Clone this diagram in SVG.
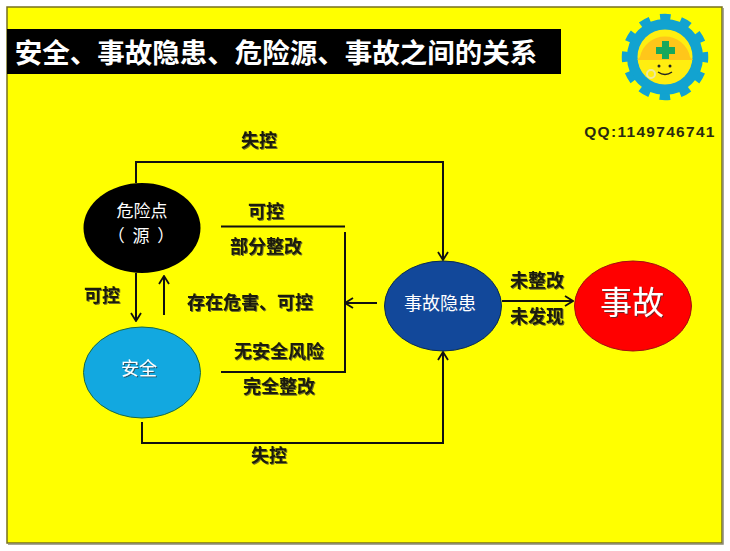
<svg xmlns="http://www.w3.org/2000/svg" width="730" height="551" viewBox="0 0 730 551">
<defs>
<marker id="arr" viewBox="0 0 12 12" refX="11" refY="6" markerWidth="12" markerHeight="12" markerUnits="userSpaceOnUse" orient="auto"><path d="M3 1 L11 6 L3 11" fill="none" stroke="#111" stroke-width="1.8"/></marker>
<filter id="sh" x="-10%" y="-10%" width="125%" height="130%"><feDropShadow dx="1" dy="1" stdDeviation="0.6" flood-color="#333" flood-opacity="0.7"/></filter>
</defs>
<style>
text{font-family:"Noto Sans CJK SC","Liberation Sans",sans-serif;text-anchor:middle}
.l{font-size:18px;font-weight:700;fill:#1a1a08;filter:url(#sh)}
.n{font-size:18px;fill:#fff}
.c{fill:none;stroke:#111;stroke-width:2}
.a{marker-end:url(#arr)}
</style>
<rect width="730" height="551" fill="#fff"/>
<rect x="7" y="7" width="715" height="536" fill="#ff0" stroke="#77701c" stroke-width="1.5"/>
<path d="M723 8V544H8" fill="none" stroke="#8a8a70" stroke-width="1.5"/>
<g id="title">
<rect x="7" y="29" width="554" height="45" fill="#000"/>
<text x="276" y="63" font-size="27.500" font-weight="700" fill="#fff">安全、事故隐患、危险源、事故之间的关系</text>
</g>
<g id="logo">
<circle cx="665" cy="57" r="32.500" fill="none" stroke="#12a3d0" stroke-width="11"/>
<circle cx="665" cy="57" r="40" fill="none" stroke="#12a3d0" stroke-width="6.500" stroke-dasharray="10.500 10.440" stroke-dashoffset="5.200"/>
<circle cx="665" cy="57" r="27.500" fill="#ffee10"/>
<path d="M640 57 A25.500 25.500 0 0 1 690 57 L693 60 L637 60 Z" fill="#ffc61a"/>
<path d="M662 41h7v6h6v7h-6v5h-7v-5h-6v-7h6z" fill="#17a85c"/>
<circle cx="659" cy="66" r="1.500" fill="#222"/><circle cx="670" cy="66" r="1.500" fill="#222"/>
<path d="M658 72 Q665 77 672 72" fill="none" stroke="#222" stroke-width="1.500"/>
<circle cx="651" cy="74" r="4" fill="none" stroke="#eee9a0" stroke-width="2"/>
<text x="650" y="137" font-size="15.500" font-weight="700" fill="#2a2a10" style="font-family:'Liberation Sans',sans-serif;letter-spacing:1.300px">QQ:1149746741</text>
</g>
<g id="connectors">
<path class="c a" d="M136 183V162H443V260"/>
<path class="c a" d="M142 422V443H443V352"/>
<path class="c a" d="M136 273V321"/>
<path class="c a" d="M164 315V276"/>
<path class="c" d="M221 226.500H345"/>
<path class="c" d="M345 232V372H221"/>
<path class="c a" d="M377 303H345"/>
<path class="c a" d="M502 301H573"/>
</g>
<g id="node-hazard">
<ellipse cx="142" cy="228" rx="58.500" ry="45" fill="#000"/>
<text x="142" y="217" font-size="17" fill="#fff">危险点</text>
<text x="142" y="242" font-size="17" fill="#fff" letter-spacing="2">（ 源 ）</text>
</g>
<g id="node-safe">
<ellipse cx="142" cy="372.500" rx="58.500" ry="45.500" fill="#12a8e0" stroke="#1a6a40"/>
<text class="n" x="139" y="375" style="filter:url(#sh)">安全</text>
</g>
<g id="node-risk">
<ellipse cx="443" cy="306" rx="58.500" ry="45" fill="#12489a" stroke="#0a2a50"/>
<text class="n" x="440" y="310">事故隐患</text>
</g>
<g id="node-accident">
<ellipse cx="633" cy="306" rx="58.500" ry="45" fill="#f00" stroke="#a01010"/>
<text x="632" y="314" font-size="32" fill="#fff" style="filter:url(#sh)">事故</text>
</g>
<g id="labels">
<text class="l" x="259" y="147">失控</text>
<text class="l" x="266" y="218">可控</text>
<text class="l" x="266" y="253">部分整改</text>
<text class="l" x="102" y="302">可控</text>
<text class="l" x="250" y="309">存在危害、可控</text>
<text class="l" x="279" y="358">无安全风险</text>
<text class="l" x="279" y="393">完全整改</text>
<text class="l" x="269" y="462">失控</text>
<text class="l" x="537" y="287">未整改</text>
<text class="l" x="537" y="323">未发现</text>
</g>
</svg>
